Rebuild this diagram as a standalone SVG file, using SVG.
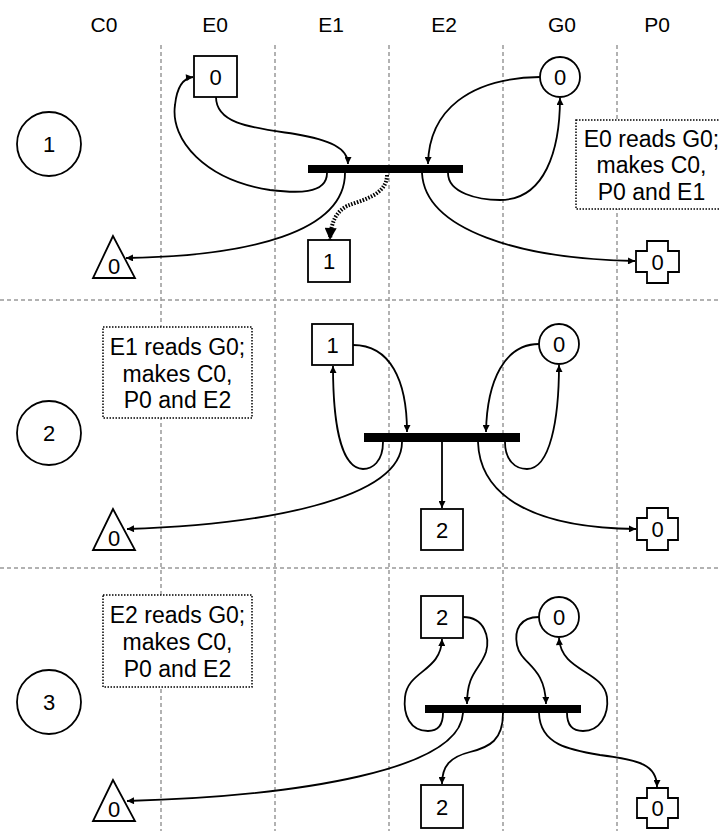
<svg xmlns="http://www.w3.org/2000/svg" width="719" height="831" viewBox="0 0 719 831">
<style>
.grid{stroke:#999;stroke-width:1.5;stroke-dasharray:4,3;fill:none}
.hdr{font-family:"Liberation Sans",Arial,sans-serif;font-size:21px;fill:#000;text-anchor:middle}
.lbl{font-family:"Liberation Sans",Arial,sans-serif;font-size:22px;fill:#000;text-anchor:middle}
.note{font-family:"Liberation Sans",Arial,sans-serif;font-size:23px;fill:#000;text-anchor:middle}
.shape{fill:#fff;stroke:#000;stroke-width:1.8}
.notebox{fill:#fff;stroke:#000;stroke-width:1.5;stroke-dasharray:1.5,1.5}
.bar{fill:#000}
.c{fill:none;stroke:#000;stroke-width:1.8;marker-end:url(#arr)}
.dot{fill:none;stroke:#000;stroke-width:4;stroke-dasharray:1.5,1.5;marker-end:url(#big)}
</style>
<defs>
<marker id="arr" viewBox="0 0 10 10" refX="10" refY="5" markerWidth="9" markerHeight="7" orient="auto" markerUnits="userSpaceOnUse"><path d="M0,0 L10,5 L0,10 z" fill="#000"/></marker>
<marker id="big" viewBox="0 0 10 10" refX="10" refY="5" markerWidth="16" markerHeight="12" orient="auto" markerUnits="userSpaceOnUse"><path d="M0,0 L10,5 L0,10 z" fill="#000"/></marker>
</defs>
<rect width="719" height="831" fill="#fff"/>
<g id="grid">
<line class="grid" x1="161" y1="45" x2="161" y2="831"/>
<line class="grid" x1="275" y1="45" x2="275" y2="831"/>
<line class="grid" x1="389" y1="45" x2="389" y2="831"/>
<line class="grid" x1="503" y1="45" x2="503" y2="831"/>
<line class="grid" x1="617" y1="45" x2="617" y2="831"/>
<line class="grid" x1="0" y1="300" x2="719" y2="300"/>
<line class="grid" x1="0" y1="568" x2="719" y2="568"/>
</g>
<g id="headers">
<text class="hdr" x="104" y="32">C0</text>
<text class="hdr" x="215" y="32">E0</text>
<text class="hdr" x="331" y="32">E1</text>
<text class="hdr" x="444" y="32">E2</text>
<text class="hdr" x="562" y="32">G0</text>
<text class="hdr" x="657" y="32">P0</text>
</g>
<g id="row-labels">
<g id="row1"><circle class="shape" cx="49" cy="144" r="32"/><text class="lbl" x="49" y="152">1</text></g>
<g id="row2"><circle class="shape" cx="49" cy="433" r="32"/><text class="lbl" x="49" y="441">2</text></g>
<g id="row3"><circle class="shape" cx="49" cy="702" r="32"/><text class="lbl" x="49" y="710">3</text></g>
</g>
<g id="connectors">
<path class="c" d="M216,97 C216,125 255,128 295,134 C330,140 348,148 348,164"/>
<path class="c" d="M327,173 C327,195 295,193 270,190 C205,180 170,140 175,105 C177,86 184,78 193,77"/>
<path class="c" d="M345,173 C345,232 250,256 126,258"/>
<path class="dot" d="M387,175 C387,195 362,200 347,206 C336,212 331,222 330,240"/>
<path class="c" d="M540,77 C470,78 429,110 428,164"/>
<path class="c" d="M448,173 C448,193 478,200 500,200 C545,200 560,150 560,98"/>
<path class="c" d="M422,173 C425,230 520,259 635,261"/>
<path class="c" d="M353,345 C390,345 407,380 407,432"/>
<path class="c" d="M383,442 C383,462 372,469 363,469 C340,468 333,420 333,366"/>
<path class="c" d="M402,442 C402,500 260,525 127,529"/>
<path class="c" d="M442,442 L442,508"/>
<path class="c" d="M539,344 C505,344 487,380 486,432"/>
<path class="c" d="M505,442 C505,460 515,469 527,469 C550,469 559,420 559,365"/>
<path class="c" d="M478,442 C480,500 540,528 636,529"/>
<path class="c" d="M463,617 C485,617 490,638 486,652 C480,670 467,672 467,704"/>
<path class="c" d="M443,713 C443,727 436,731 428,731 C410,731 403,715 405,697 C408,670 441,672 442,639"/>
<path class="c" d="M463,713 C460,770 300,796 127,801"/>
<path class="c" d="M503,713 C503,740 490,747 470,752 C450,757 442,766 442,784"/>
<path class="c" d="M539,617 C520,617 514,630 517,645 C521,665 545,665 546,704"/>
<path class="c" d="M567,713 C567,727 574,731 583,731 C600,731 609,715 607,697 C603,670 561,672 559,638"/>
<path class="c" d="M539,713 C540,745 570,750 600,755 C640,760 657,765 657,787"/>
</g>
<g id="bars">
<rect id="bar1" class="bar" x="308" y="165" width="155" height="8"/>
<rect id="bar2" class="bar" x="364" y="433" width="156" height="9"/>
<rect id="bar3" class="bar" x="425" y="705" width="156" height="8"/>
</g>
<g id="nodes">
<g id="r1-E0"><rect class="shape" x="194" y="56" width="43" height="41"/><text class="lbl" x="215.5" y="84.5">0</text></g>
<g id="r1-G0"><circle class="shape" cx="560" cy="77" r="20"/><text class="lbl" x="560" y="85">0</text></g>
<g id="r1-C0"><polygon class="shape" points="113,236 93,278 135,278"/><text class="lbl" x="114" y="273.5">0</text></g>
<g id="r1-E1"><rect class="shape" x="308" y="240" width="42" height="42"/><text class="lbl" x="329" y="269">1</text></g>
<g id="r1-P0"><polygon class="shape" points="647,241 668,241 668,251 679,251 679,272 668,272 668,283 647,283 647,272 636,272 636,251 647,251"/><text class="lbl" x="657.5" y="270">0</text></g>
<g id="r2-E1"><rect class="shape" x="312" y="324" width="41" height="41"/><text class="lbl" x="332.5" y="352.5">1</text></g>
<g id="r2-G0"><circle class="shape" cx="559" cy="344" r="20"/><text class="lbl" x="559" y="352">0</text></g>
<g id="r2-C0"><polygon class="shape" points="113,509 93,550 135,550"/><text class="lbl" x="114" y="545.5">0</text></g>
<g id="r2-E2"><rect class="shape" x="421" y="509" width="42" height="41"/><text class="lbl" x="442" y="537.5">2</text></g>
<g id="r2-P0"><polygon class="shape" points="647,508 668,508 668,518 678,518 678,540 668,540 668,550 647,550 647,540 637,540 637,518 647,518"/><text class="lbl" x="657.5" y="537">0</text></g>
<g id="r3-E2a"><rect class="shape" x="421" y="596" width="42" height="42"/><text class="lbl" x="442" y="625">2</text></g>
<g id="r3-G0"><circle class="shape" cx="559" cy="617" r="20"/><text class="lbl" x="559" y="625">0</text></g>
<g id="r3-C0"><polygon class="shape" points="113,780 93,821 135,821"/><text class="lbl" x="114" y="816.5">0</text></g>
<g id="r3-E2b"><rect class="shape" x="421" y="785" width="42" height="43"/><text class="lbl" x="442" y="814.5">2</text></g>
<g id="r3-P0"><polygon class="shape" points="647,788 668,788 668,798 678,798 678,818 668,818 668,828 647,828 647,818 637,818 637,798 647,798"/><text class="lbl" x="657.5" y="816">0</text></g>
</g>
<g id="notes">
<g id="note1"><rect class="notebox" x="576" y="120" width="150" height="89"/><text class="note" x="651.5" y="147">E0 reads G0;</text><text class="note" x="651.5" y="173">makes C0,</text><text class="note" x="651.5" y="200">P0 and E1</text></g>
<g id="note2"><rect class="notebox" x="103" y="327" width="149" height="91"/><text class="note" x="177.5" y="355">E1 reads G0;</text><text class="note" x="177.5" y="382">makes C0,</text><text class="note" x="177.5" y="408">P0 and E2</text></g>
<g id="note3"><rect class="notebox" x="103" y="595" width="149" height="92"/><text class="note" x="177.5" y="623">E2 reads G0;</text><text class="note" x="177.5" y="650">makes C0,</text><text class="note" x="177.5" y="677">P0 and E2</text></g>
</g>
</svg>
